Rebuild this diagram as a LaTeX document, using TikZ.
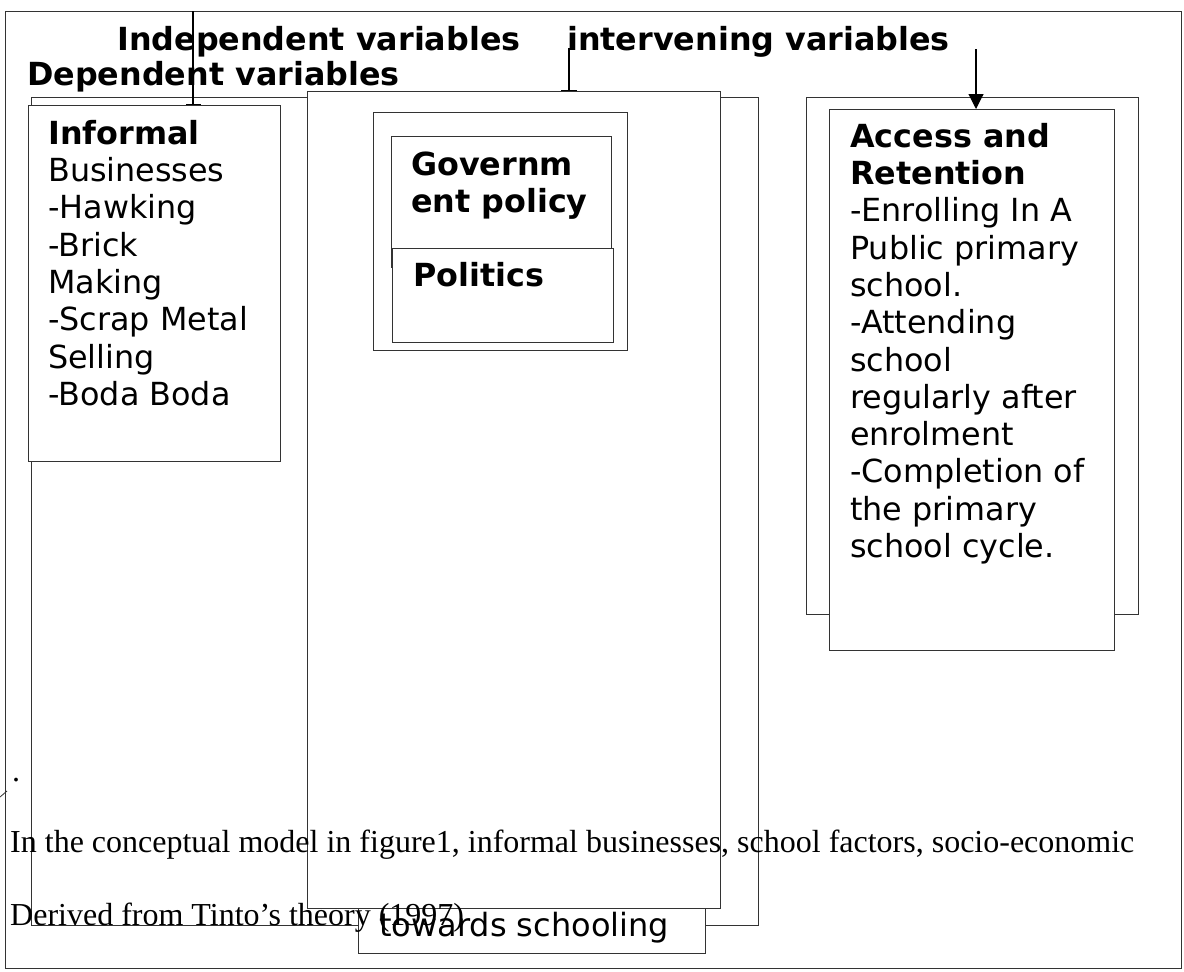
\documentclass[tikz,border=0pt]{standalone}
\usepackage{fontspec}
\setmainfont{DejaVu Sans}
\newfontfamily\proseface{Liberation Serif}
\usetikzlibrary{arrows.meta}

\tikzset{
  x=1pt, y=-1pt,
  boxline/.style={draw=black!80, line width=1.1pt},
  panel/.style={boxline, fill=white, rectangle, inner sep=0pt, anchor=north west},
  body/.style={font=\fontsize{31.8}{37.3}\selectfont, align=left, anchor=north west, inner sep=0pt},
  head/.style={font=\bfseries\fontsize{31.8}{37}\selectfont, anchor=base west, inner sep=0pt},
  prose/.style={font=\proseface\fontsize{32}{36}\selectfont, anchor=base west, inner sep=0pt},
  link/.style={draw=black, line width=1.1pt},
}

\begin{document}
\begin{tikzpicture}
\useasboundingbox (0,0) rectangle (1184,972);

% outer frame
\node[panel, fill=none, minimum width=1176pt, minimum height=957pt] (frame) at (5,11) {};

% headings
\node[head] (indep) at (117,50) {Independent variables};
\node[head] (inter) at (567,50) {intervening variables};
\node[head] (dep) at (27,85) {Dependent variables};

% large background box spanning the left and middle columns
\node[panel, fill=none, minimum width=727pt, minimum height=828pt] (back) at (31,97) {};

% label box under the middle column
\node[panel, minimum width=347pt, minimum height=63pt] (toward) at (358,890) {};
\node[anchor=base west, inner sep=0pt, font=\fontsize{32}{37}\selectfont] (towardtxt) at (379,936) {towards schooling};

% middle column
\node[panel, minimum width=413pt, minimum height=817pt] (mid) at (307,91) {};

% prose lines
\node[prose] (dot) at (12,781) {.};
\node[prose] (para) at (10,852) {In the conceptual model in figure1, informal businesses, school factors, socio-economic};
\node[prose] (source) at (10,925) {Derived from Tinto’s theory (1997)};
\coordinate (tickA) at (0,797);
\coordinate (tickB) at (7,791);
\draw[boxline, line width=0.8pt] (tickA) -- (tickB);

% informal businesses box
\node[panel, minimum width=252pt, minimum height=356pt] (informal) at (28,105) {};
\node[body] (informaltxt) at (48,117.9) {\strut\textbf{Informal}\\Businesses\\-Hawking\\-Brick\\Making\\-Scrap Metal\\Selling\\-Boda Boda};

% government policy / politics group
\node[panel, minimum width=254pt, minimum height=238pt] (group) at (373,112) {};
\node[panel, minimum width=220pt, minimum height=131pt] (gov) at (391,136) {};
\node[body, font=\bfseries\fontsize{31.8}{37}\selectfont] (govtxt) at (411,149) {\strut Governm\\ent policy};
\node[panel, minimum width=221pt, minimum height=94pt] (politics) at (392,248) {};
\node[head] (politicstxt) at (413,286) {Politics};

% access and retention boxes
\node[panel, minimum width=332pt, minimum height=517pt] (accback) at (806,97) {};
\node[panel, minimum width=285pt, minimum height=541pt] (access) at (829,109) {};
\node[body] (accesstxt) at (850,120.9) {\strut\textbf{Access and}\\\textbf{Retention}\\-Enrolling In A\\Public primary\\school.\\-Attending\\school\\regularly after\\enrolment\\-Completion of\\the primary\\school cycle.};

% connectors
\coordinate (indepline) at (193,11);
\coordinate (interline) at (569,48);
\coordinate (accline) at (976,49);
\draw[link, -{Bar[width=15pt, line width=1.4pt]}] (indepline) -- (indepline |- informal.north);
\draw[link, -{Bar[width=16pt, line width=1.4pt]}] (interline) -- (interline |- mid.north);
\draw[link, -{Triangle[width=15pt, length=15pt]}] (accline) -- (accline |- access.north);
\end{tikzpicture}
\end{document}
